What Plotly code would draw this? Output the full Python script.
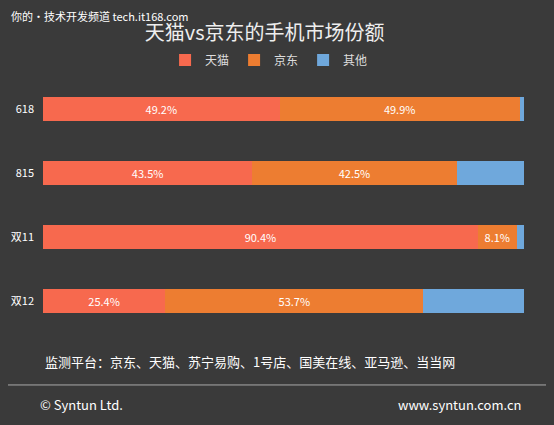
import plotly.graph_objects as go

categories = ['618', '815', '双11', '双12']
tmall = [49.2, 43.5, 90.4, 25.4]
jd = [49.9, 42.5, 8.1, 53.7]
other = [0.9, 14.0, 1.5, 20.9]

font = "Noto Sans CJK SC"
fig = go.Figure()
fig.add_trace(go.Bar(y=categories, x=tmall, name='天猫', orientation='h',
                     marker_color='#F7694E', text=[f'{v}%' for v in tmall],
                     textposition='inside', insidetextanchor='middle'))
fig.add_trace(go.Bar(y=categories, x=jd, name='京东', orientation='h',
                     marker_color='#ED7D31', text=[f'{v}%' for v in jd],
                     textposition='inside', insidetextanchor='middle'))
fig.add_trace(go.Bar(y=categories, x=other, name='其他', orientation='h',
                     marker_color='#6FA8DC', hoverinfo='x'))

fig.update_traces(textfont=dict(color='white', size=11), marker_line_width=0)
fig.update_layout(
    width=546, height=417, barmode='stack', bargap=0.64,
    paper_bgcolor='#3a3a3a', plot_bgcolor='rgba(0,0,0,0)',
    font=dict(family=font, color='white', size=11),
    margin=dict(l=35, r=30, t=69, b=92, autoexpand=False),
    title=dict(text='天猫vs京东的手机市场份额', x=0.47, y=0.94, xanchor='center',
               yanchor='middle', font=dict(size=20, color='#eeeeee')),
    legend=dict(orientation='h', x=0.47, xanchor='center', y=1.066, yanchor='middle',
                font=dict(size=12, color='#dddddd'), traceorder='normal',
                itemwidth=30),
    xaxis=dict(range=[0, 100], visible=False),
    yaxis=dict(autorange='reversed', showgrid=False, ticks='', ticklabelstandoff=8,
               automargin=False, tickfont=dict(size=11, color='white')),
    showlegend=True,
)
fig.add_annotation(text='你的・技术开发频道 tech.it168.com', xref='paper', yref='paper',
                   x=-0.07, y=1.238, xanchor='left', yanchor='middle', showarrow=False,
                   font=dict(size=11, color='white'))
fig.add_annotation(text='监测平台：京东、天猫、苏宁易购、1号店、国美在线、亚马逊、当当网',
                   xref='paper', yref='paper', x=0.0, y=-0.113, xanchor='left',
                   yanchor='middle', showarrow=False, font=dict(size=13, color='white'))
fig.add_shape(type='line', xref='paper', yref='paper', x0=-0.08, x1=1.06,
              y0=-0.203, y1=-0.203, line=dict(color='#aaaaaa', width=1))
fig.add_annotation(text='© Syntun Ltd.', xref='paper', yref='paper', x=-0.01, y=-0.281,
                   xanchor='left', yanchor='middle', showarrow=False,
                   font=dict(size=13, color='white'))
fig.add_annotation(text='www.syntun.com.cn', xref='paper', yref='paper', x=1.0, y=-0.281,
                   xanchor='right', yanchor='middle', showarrow=False,
                   font=dict(size=13, color='white'))
fig.write_html("out.html", post_script="document.body.style.background='#3a3a3a';")
